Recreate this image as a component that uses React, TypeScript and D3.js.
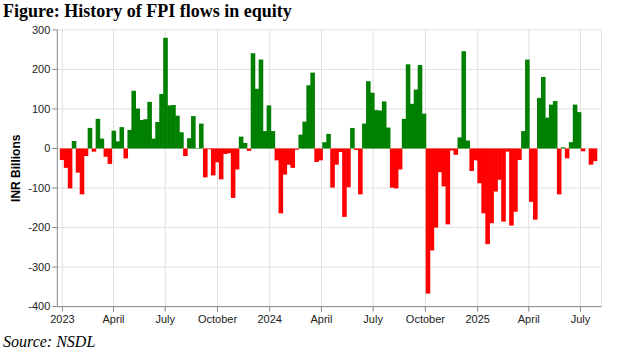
import React from "react";
import * as d3 from "d3";

// ---- data ----
const firstWeekStart = "2022-12-28";
const flows: number[] = [
  -29, -49, -101, 19, -61, -116, -19, 52, -8, 75,
  25, -21, -39, 45, 18, 54, -25, 47, 146, 101,
  72, 74, 118, 25, 67, 138, 280, 109, 110, 83,
  41, -19, 26, 82, 1, 63, -73, -2, -68, -35,
  -78, -14, -12, -125, -53, 30, 14, -6, 241, 151,
  225, 44, 109, 44, -30, -164, -66, -41, -49, -3,
  35, 68, 160, 192, -34, -30, 16, 37, -99, -41,
  -9, -173, -98, 52, -4, -116, 63, 170, 141, 97,
  96, 119, 53, -99, -101, -53, 75, 213, 113, 149,
  211, 88, -367, -258, -200, -60, -96, -192, -5, -16,
  28, 246, 20, -57, -30, -88, -164, -242, -189, -109,
  -79, -185, -8, -195, -160, -29, 44, 225, -135, -180,
  128, 181, 78, 111, 120, -116, 3, -25, 16, 111,
  92, -7, 0, -41, -32,
];
const yTicks = [-400, -300, -200, -100, 0, 100, 200, 300];
const xTickDates = [
  "2023-01-01", "2023-04-01", "2023-07-01", "2023-10-01",
  "2024-01-01", "2024-04-01", "2024-07-01", "2024-10-01",
  "2025-01-01", "2025-04-01", "2025-07-01",
];
const xTickLabels = [
  "2023", "April", "July", "October",
  "2024", "April", "July", "October",
  "2025", "April", "July",
];
const xDomain = ["2022-12-23", "2025-08-07"];
const yDomain = [-400, 300];
const titleText = "Figure: History of FPI flows in equity";
const yTitleText = "INR Billions";
const sourceText = "Source: NSDL";

const parse = d3.timeParse("%Y-%m-%d");

export default function App() {
  const W = 618;
  const H = 357;
  const left = 57.3;
  const right = 601.5;
  const top = 29.9;
  const bottom = 306.6;

  const x = d3
    .scaleTime()
    .domain(xDomain.map((d) => parse(d) as Date))
    .range([left, right]);
  const y = d3.scaleLinear().domain(yDomain).range([bottom, top]);

  const start = parse(firstWeekStart) as Date;
  const bars = flows.map((v, i) => {
    const d0 = d3.timeDay.offset(start, 7 * i);
    const d1 = d3.timeDay.offset(start, 7 * (i + 1));
    return { v, d0, d1 };
  });

  const sans = "'Liberation Sans', Arial, sans-serif";
  const serif = "'Liberation Serif', 'Times New Roman', serif";
  const ticks = xTickDates.map((d) => parse(d) as Date);

  return (
    <div style={{ position: "absolute", left: 0, top: 0 }}>
      <svg width={W} height={H} style={{ display: "block", background: "#fff" }}>
        <text x={3} y={17} fontFamily={serif} fontWeight="bold" fontSize={18} fill="#000">
          {titleText}
        </text>

        {/* grid */}
        <g stroke="#e0e0e0" strokeWidth={1}>
          {yTicks.map((t) => (
            <line key={"gy" + t} x1={left} x2={right} y1={y(t)} y2={y(t)} />
          ))}
          {ticks.map((t, i) => (
            <line key={"gx" + i} x1={x(t)} x2={x(t)} y1={top} y2={bottom} />
          ))}
          <line x1={right} x2={right} y1={top} y2={bottom} />
        </g>

        {/* bars */}
        <g>
          {bars.map((b, i) => {
            if (b.v === 0) return null;
            const x0 = x(b.d0);
            const x1 = x(b.d1);
            const y0 = y(Math.max(0, b.v));
            const y1 = y(Math.min(0, b.v));
            return (
              <rect
                key={i}
                x={x0 - 0.3}
                y={y0}
                width={x1 - x0 + 0.6}
                height={y1 - y0}
                fill={b.v >= 0 ? "#008000" : "#ff0000"}
              />
            );
          })}
        </g>

        {/* y axis */}
        <g fontFamily={sans} fontSize={11} fill="#222">
          <line x1={left} x2={left} y1={top} y2={bottom} stroke="#888" />
          {yTicks.map((t) => (
            <g key={"ty" + t}>
              <line x1={left - 5} x2={left} y1={y(t)} y2={y(t)} stroke="#888" />
              <text x={left - 7} y={y(t)} dy="0.35em" textAnchor="end">
                {String(t)}
              </text>
            </g>
          ))}
          <text
            transform={`translate(20,${(top + bottom) / 2}) rotate(-90)`}
            textAnchor="middle"
            fontWeight="bold"
            fontSize={12}
            fill="#000"
          >
            {yTitleText}
          </text>
        </g>

        {/* x axis */}
        <g fontFamily={sans} fontSize={11} fill="#222">
          <line x1={left} x2={right} y1={bottom} y2={bottom} stroke="#888" />
          {ticks.map((t, i) => (
            <g key={"tx" + i}>
              <line x1={x(t)} x2={x(t)} y1={bottom} y2={bottom + 5} stroke="#888" />
              <text x={x(t)} y={bottom + 7} dy="0.85em" textAnchor="middle">
                {xTickLabels[i]}
              </text>
            </g>
          ))}
        </g>

        <text x={3} y={347} fontFamily={serif} fontStyle="italic" fontSize={16} fill="#000">
          {sourceText}
        </text>
      </svg>
    </div>
  );
}
